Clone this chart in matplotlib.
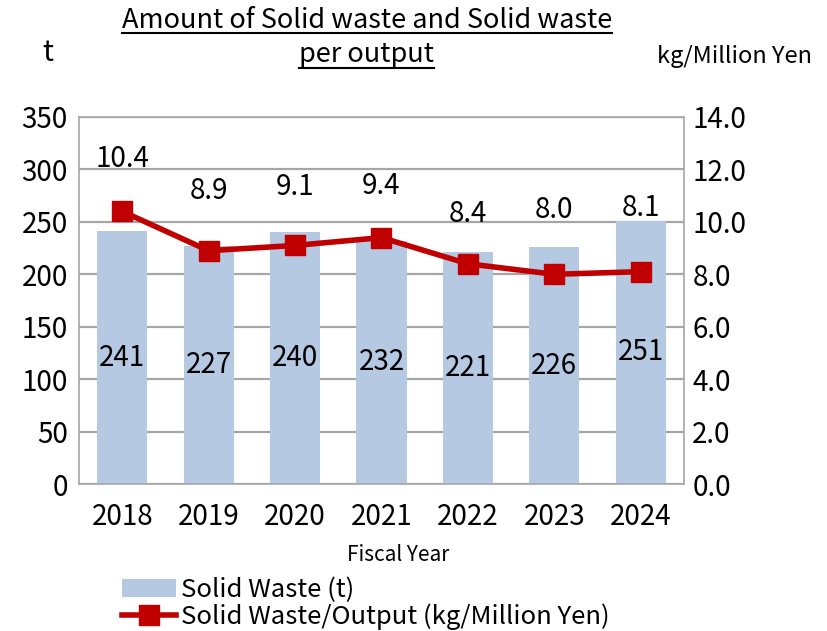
import matplotlib
matplotlib.use("Agg")
import matplotlib.pyplot as plt
from matplotlib.lines import Line2D
from matplotlib.patches import Patch

years = ["2018", "2019", "2020", "2021", "2022", "2023", "2024"]
waste_t = [241, 227, 240, 232, 221, 226, 251]
waste_per_output = [10.4, 8.9, 9.1, 9.4, 8.4, 8.0, 8.1]
label_dy = [52, 60, 58, 52, 50, 64, 64]

FONT = ["Noto Sans CJK JP", "DejaVu Sans"]
plt.rcParams["font.family"] = FONT

W, H = 828, 631
fig = plt.figure(figsize=(W / 100, H / 100), dpi=100)

def fx(x):
    return x / W

def fy(y):
    return 1 - y / H

BAR_C = "#B5C9E3"
LINE_C = "#C00000"

ax = fig.add_axes([fx(79), fy(484), fx(684) - fx(79), fy(117) - fy(484)])
ax2 = ax.twinx()

x = list(range(len(years)))
ax.bar(x, waste_t, width=0.58, color=BAR_C, zorder=2)
ax.set_ylim(0, 350)
ax.set_xlim(-0.5, len(years) - 0.5)
ax.set_yticks(range(0, 351, 50))
ax.grid(axis="y", color="#A6A6A6", linewidth=1.6, zorder=0)
ax.set_axisbelow(True)
ax.set_xticks(x)
ax.set_xticklabels(years)
ax.tick_params(axis="both", length=0, labelsize=20, pad=8)
ax.tick_params(axis="x", pad=13)
for s in ax.spines.values():
    s.set_color("#A6A6A6")
    s.set_linewidth(1.2)

for xi, v in zip(x, waste_t):
    ax.text(xi, v / 2, f"{v}", ha="center", va="center", fontsize=20, zorder=5)

ax2.plot(x, waste_per_output, color=LINE_C, linewidth=4, marker="s",
         markersize=15, zorder=4)
ax2.set_ylim(0, 14)
ax2.set_yticks([i * 2 for i in range(8)])
ax2.set_yticklabels([f"{i * 2:.1f}" for i in range(8)])
ax2.tick_params(axis="y", length=0, labelsize=20, pad=6)
for s in ax2.spines.values():
    s.set_visible(False)

for xi, v, dy in zip(x, waste_per_output, label_dy):
    ax2.annotate(f"{v:.1f}", (xi, v), xytext=(0, dy * 0.72), textcoords="offset points",
                 ha="center", va="center", fontsize=20)

# titles
t1 = fig.text(fx(367), fy(21), "Amount of Solid waste and Solid waste", ha="center",
              va="center", fontsize=19.5)
t2 = fig.text(fx(367), fy(54), "per output", ha="center", va="center", fontsize=19.5)
fig.text(fx(48), fy(53), "t", ha="center", va="center", fontsize=21)
fig.text(fx(812), fy(56), "kg/Million Yen", ha="right", va="center", fontsize=17)
fig.text(fx(398), fy(555), "Fiscal Year", ha="center", va="center", fontsize=15)

r = fig.canvas.get_renderer()
for t, uy in [(t1, 33), (t2, 68)]:
    bb = t.get_window_extent(renderer=r)
    fig.add_artist(Line2D([bb.x0 / W, bb.x1 / W], [fy(uy), fy(uy)], color="black",
                          linewidth=1.5, transform=fig.transFigure))

handles = [Patch(facecolor=BAR_C, edgecolor="none"),
           Line2D([], [], color=LINE_C, linewidth=4, marker="s", markersize=15)]
fig.legend(handles, ["Solid Waste (t)", "Solid Waste/Output (kg/Million Yen)"],
           loc="lower left", bbox_to_anchor=(fx(122), fy(630)), frameon=False,
           fontsize=18.5, handlelength=2.1, handletextpad=0.2, labelspacing=0.0,
           borderpad=0, borderaxespad=0)

fig.savefig("out.png", dpi=100)
